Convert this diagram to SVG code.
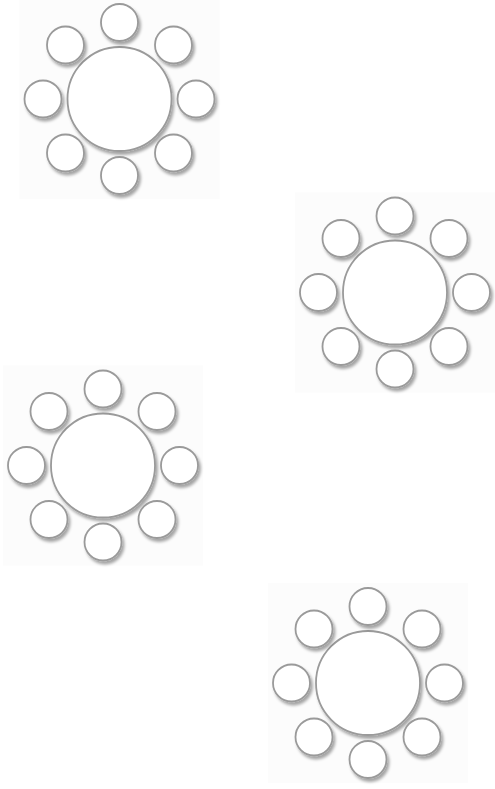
<svg xmlns="http://www.w3.org/2000/svg" width="495" height="789" viewBox="0 0 495 789" xmlns:xlink="http://www.w3.org/1999/xlink">
<style>
.bg{fill:#fcfcfc;stroke:none}
.t{fill:#ffffff;stroke:#9a9a9a;stroke-width:1.8;filter:url(#sh)}
</style>
<defs>
<filter id="sh" x="-30%" y="-30%" width="160%" height="160%">
<feDropShadow dx="2" dy="3" stdDeviation="1.8" flood-color="#000" flood-opacity="0.35"/>
</filter>
<g id="tpl">
<rect class="bg" x="-100" y="-100" width="200" height="200"/>
<circle class="t" cx="0" cy="0" r="52"/>
<circle class="t" cx="0" cy="-76.5" r="18.5"/>
<circle class="t" cx="54" cy="-54" r="18.5"/>
<circle class="t" cx="76.5" cy="0" r="18.5"/>
<circle class="t" cx="54" cy="54" r="18.5"/>
<circle class="t" cx="0" cy="76.5" r="18.5"/>
<circle class="t" cx="-54" cy="54" r="18.5"/>
<circle class="t" cx="-76.5" cy="0" r="18.5"/>
<circle class="t" cx="-54" cy="-54" r="18.5"/>
</g>
</defs>
<rect width="495" height="789" fill="#ffffff"/>
<g id="table1"><use xlink:href="#tpl" href="#tpl" transform="translate(119.5,99)"/></g>
<g id="table2"><use xlink:href="#tpl" href="#tpl" transform="translate(395,292.5)"/></g>
<g id="table3"><use xlink:href="#tpl" href="#tpl" transform="translate(103,465.5)"/></g>
<g id="table4"><use xlink:href="#tpl" href="#tpl" transform="translate(368,683)"/></g>
<g id="connectors"/>
</svg>
